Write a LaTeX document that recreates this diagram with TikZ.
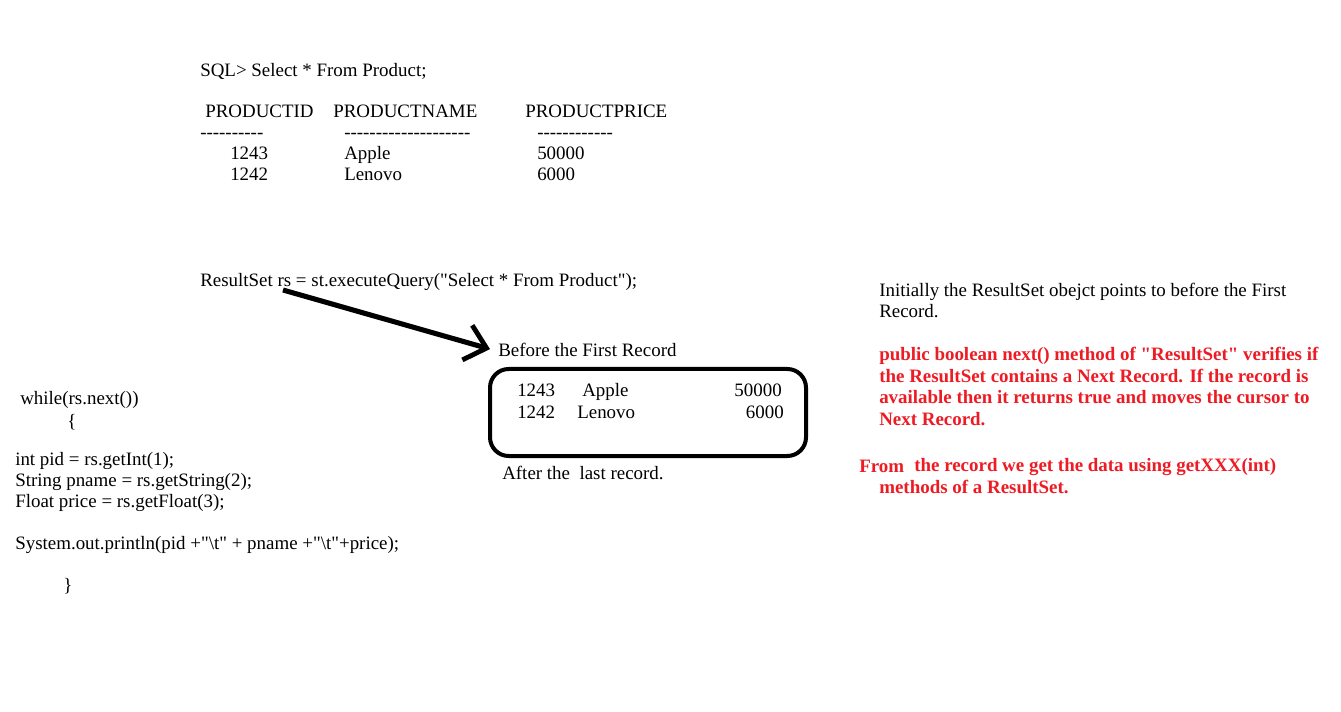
\documentclass[tikz,border=0pt]{standalone}
\usepackage{fontspec}
\setmainfont{Liberation Serif}[Ligatures=TeXOff]
\usetikzlibrary{arrows.meta}
\definecolor{paintred}{HTML}{ED1C24}
\begin{document}
\begin{tikzpicture}[x=0.75pt,y=-0.75pt,
  txt/.style={anchor=base west,inner sep=0pt,font=\fontsize{14.2}{16}\selectfont},
  txtr/.style={anchor=base east,inner sep=0pt,font=\fontsize{14.2}{16}\selectfont},
  redtxt/.style={txt,text=paintred,font=\fontsize{14.2}{16}\selectfont\bfseries},
  bigarrow/.style={line width=3.8pt,-{Straight Barb[length=15pt,width=27pt,line width=3.6pt]}},
  recbox/.style={draw,line width=3pt,rounded corners=14pt,inner sep=0pt,minimum width=237pt,minimum height=65.25pt}]
\useasboundingbox[fill=white] (0,0) rectangle (1341,712);
% SQL output
\node[txt] (sql) at (200,77) {SQL> Select * From Product;};
\node[txt] (h1) at (205,118) {PRODUCTID};
\node[txt] (h2) at (333,118) {PRODUCTNAME};
\node[txt] (h3) at (525,118) {PRODUCTPRICE};
\node[txt] (d1) at (200,139) {----------};
\node[txt] (d2) at (344,139) {--------------------};
\node[txt] (d3) at (537,139) {------------};
\node[txt] (r1a) at (230,160) {1243};
\node[txt] (r1b) at (344,160) {Apple};
\node[txt] (r1c) at (537,160) {50000};
\node[txt] (r2a) at (230,181) {1242};
\node[txt] (r2b) at (344,181) {Lenovo};
\node[txt] (r2c) at (537,181) {6000};
% ResultSet
\node[txt] (rs) at (200,287) {ResultSet rs = st.executeQuery("Select * From Product");};
\coordinate (rsstart) at (283,290);
\node[txt] (before) at (498,357) {Before the First Record};
\draw[bigarrow] (rsstart) -- ([xshift=-6pt,yshift=1pt]before.west);
\node[recbox] (box) at (648,412.5) {};
\node[txt] (b1a) at (517,397) {1243};
\node[txt] (b1b) at (582,397) {Apple};
\node[txtr] (b1c) at (782,397) {50000};
\node[txt] (b2a) at (517,418) {1242};
\node[txt] (b2b) at (577,418) {Lenovo};
\node[txtr] (b2c) at (784,418) {6000};
\node[txt] (after) at (502,479) {After the\ \ last record.};
% code
\node[txt] (c1) at (20,405) {while(rs.next())};
\node[txt] (c2) at (67,427) {\{};
\node[txt] (c3) at (15,465) {int pid = rs.getInt(1);};
\node[txt] (c4) at (15,486) {String pname = rs.getString(2);};
\node[txt] (c5) at (15,507) {Float price = rs.getFloat(3);};
\node[txt] (c6) at (15,549) {System.out.println(pid +"\textbackslash t" + pname +"\textbackslash t"+price);};
\node[txt] (c7) at (63,591) {\}};
% right notes
\node[txt] (n1) at (879,297) {Initially the ResultSet obejct points to before the First};
\node[txt] (n2) at (879,318) {Record.};
\node[redtxt] (p1) at (879,361) {public boolean next() method of "ResultSet" verifies if};
\node[redtxt] (p2) at (879,383) {the ResultSet contains a Next Record. If the record is};
\node[redtxt] (p3) at (879,404) {available then it returns true and moves the cursor to};
\node[redtxt] (p4) at (879,426) {Next Record.};
\node[redtxt] (f0) at (859,472) {From};
\node[redtxt] (f1) at (914,471) {the record we get the data using getXXX(int)};
\node[redtxt] (f2) at (879,493) {methods of a ResultSet.};
\end{tikzpicture}
\end{document}
